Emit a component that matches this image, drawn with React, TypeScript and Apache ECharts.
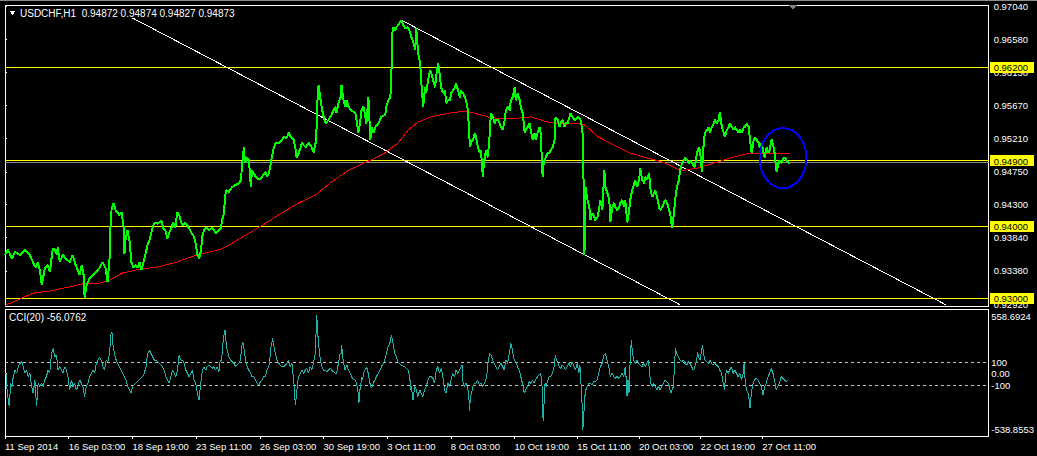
import React, { useEffect, useRef } from "react";
import * as echarts from "echarts";

// ---------- data ----------
const symbolTitle = "USDCHF,H1";
const lastBar = [0.94872, 0.94874, 0.94827, 0.94873];
const cciTitle = "CCI(20)";
const cciLast = -56.0762;

const priceMin = 0.92893;
const priceMax = 0.97059;
const priceTicks = [0.9704, 0.9658, 0.9613, 0.9567, 0.9521, 0.9475, 0.943, 0.9384, 0.9338, 0.9292];
const levelLines = [0.962, 0.949, 0.94, 0.93];
const bidPrice = 0.94873;

const cciMin = -538.8553;
const cciMax = 558.6924;
const cciTicks = [558.6924, 100, 0, -100, -538.8553];
const cciLevels = [100, -100];

const barMax = 988;
const timeTickPos = [0, 64, 128, 192, 256, 320, 384, 448, 512, 575, 637, 699, 761];
const timeLabels = [
  "11 Sep 2014", "16 Sep 03:00", "18 Sep 19:00", "23 Sep 11:00", "26 Sep 03:00",
  "30 Sep 19:00", "3 Oct 11:00", "8 Oct 03:00", "10 Oct 19:00", "15 Oct 11:00",
  "20 Oct 03:00", "22 Oct 19:00", "27 Oct 11:00",
];

const trendLines = [
  [[128, 0.9688], [678, 0.9291]],
  [[398, 0.9685], [945, 0.9291]],
];

const circleMark = { x: 781.5, y: 0.9494, rx: 23.5, ry: 0.00415 };

const closeSeries = [
  [0,.9360],[3,.9367],[7,.9355],[10,.9364],[15,.9360],[20,.9367],[25,.9360],[28,.9350],[31,.9342],[33,.9350],
  [35,.9339],[37,.9318],[40,.9342],[43,.9346],[45,.9336],[48,.9369],[50,.9367],[52,.9360],[53,.9371],[55,.9350],
  [58,.9360],[61,.9355],[65,.9350],[68,.9360],[71,.9346],[73,.9339],[75,.9332],[77,.9346],[79,.9332],[80,.9301],
  [82,.9318],[85,.9328],[88,.9332],[91,.9336],[95,.9342],[98,.9350],[101,.9342],[103,.9322],[105,.9355],[106,.9401],
  [107,.9422],[109,.9432],[111,.9422],[113,.9419],[115,.9415],[117,.9419],[119,.9401],[120,.9362],[121,.9380],[123,.9394],
  [125,.9380],[127,.9350],[129,.9342],[131,.9346],[133,.9342],[135,.9350],[137,.9339],[139,.9350],[141,.9360],[143,.9373],
  [145,.9380],[147,.9391],[149,.9401],[151,.9405],[153,.9403],[155,.9405],[157,.9408],[159,.9397],[161,.9394],[163,.9383],
  [165,.9391],[167,.9397],[169,.9405],[171,.9397],[173,.9419],[175,.9415],[177,.9405],[179,.9401],[181,.9405],[183,.9401],
  [185,.9397],[187,.9391],[189,.9387],[191,.9380],[193,.9362],[195,.9355],[197,.9367],[198,.9385],[200,.9394],[202,.9398],
  [205,.9394],[208,.9398],[212,.9390],[215,.9394],[217,.9398],[218,.9408],[220,.9418],[221,.9440],[222,.9450],[225,.9447],
  [228,.9454],[232,.9457],[235,.9459],[237,.9464],[238,.9482],[240,.9509],[241,.9487],[243,.9495],[245,.9491],[247,.9454],
  [248,.9477],[252,.9468],[255,.9464],[258,.9468],[262,.9475],[263,.9468],[265,.9473],[267,.9487],[268,.9495],[270,.9509],
  [272,.9515],[275,.9515],[278,.9519],[280,.9523],[283,.9522],[285,.9529],[287,.9523],[290,.9519],[292,.9505],[293,.9494],
  [295,.9501],[297,.9509],[298,.9515],[302,.9509],[305,.9515],[308,.9509],[310,.9502],[312,.9515],[313,.9537],[314,.9578],
  [315,.9595],[317,.9574],[318,.9565],[320,.9551],[322,.9542],[325,.9547],[328,.9554],[330,.9560],[332,.9565],[333,.9556],
  [335,.9570],[337,.9578],[338,.9595],[340,.9574],[342,.9565],[343,.9574],[345,.9565],[348,.9560],[352,.9556],[355,.9529],
  [357,.9547],[358,.9560],[360,.9565],[362,.9551],[363,.9542],[365,.9578],[367,.9519],[368,.9537],[370,.9529],[372,.9537],
  [375,.9542],[378,.9551],[382,.9554],[383,.9565],[385,.9574],[387,.9578],[388,.9602],[389,.9667],[390,.9675],[392,.9671],
  [393,.9675],[395,.9678],[398,.9685],[400,.9678],[402,.9674],[405,.9675],[407,.9667],[408,.9662],[410,.9655],[412,.9644],
  [413,.9674],[415,.9639],[417,.9626],[418,.9602],[420,.9565],[422,.9592],[423,.9584],[425,.9602],[427,.9616],[428,.9612],
  [430,.9602],[432,.9592],[433,.9606],[435,.9626],[437,.9606],[438,.9592],[440,.9584],[442,.9588],[443,.9570],[445,.9574],
  [447,.9574],[448,.9584],[450,.9588],[452,.9592],[453,.9598],[455,.9588],[457,.9578],[458,.9588],[460,.9584],[462,.9578],
  [463,.9574],[465,.9560],[467,.9509],[468,.9515],[470,.9519],[472,.9529],[473,.9523],[475,.9509],[477,.9501],[478,.9505],
  [480,.9468],[481,.9487],[482,.9495],[483,.9505],[485,.9495],[487,.9529],[488,.9556],[490,.9551],[492,.9542],[493,.9547],
  [495,.9547],[497,.9542],[498,.9537],[500,.9533],[502,.9547],[503,.9560],[505,.9565],[507,.9560],[508,.9574],[510,.9578],
  [512,.9592],[513,.9574],[515,.9584],[517,.9574],[518,.9565],[520,.9556],[522,.9529],[523,.9533],[525,.9537],[527,.9542],
  [528,.9533],[530,.9519],[532,.9529],[533,.9519],[535,.9529],[537,.9537],[538,.9529],[540,.9468],[541,.9487],[543,.9495],
  [545,.9501],[547,.9501],[548,.9505],[550,.9509],[552,.9519],[553,.9551],[555,.9547],[557,.9537],[558,.9542],[560,.9547],
  [562,.9537],[563,.9542],[565,.9542],[567,.9551],[568,.9556],[570,.9551],[572,.9547],[573,.9547],[575,.9551],[577,.9549],
  [578,.9547],[580,.9533],[581,.9473],[582,.9360],[583,.9454],[585,.9436],[587,.9426],[588,.9408],[590,.9418],[592,.9412],
  [593,.9408],[595,.9412],[597,.9426],[598,.9436],[600,.9422],[602,.9477],[603,.9454],[605,.9446],[607,.9436],[608,.9405],
  [610,.9426],[612,.9432],[613,.9426],[615,.9422],[617,.9426],[618,.9432],[620,.9436],[622,.9426],[623,.9436],[625,.9405],
  [627,.9422],[628,.9436],[630,.9450],[632,.9459],[633,.9464],[635,.9454],[637,.9464],[638,.9480],[640,.9464],[642,.9459],
  [643,.9468],[645,.9464],[647,.9473],[648,.9454],[650,.9440],[652,.9446],[653,.9450],[655,.9440],[657,.9426],[658,.9422],
  [660,.9426],[662,.9432],[663,.9436],[665,.9432],[667,.9422],[668,.9418],[670,.9397],[672,.9418],[673,.9436],[675,.9454],
  [677,.9464],[678,.9477],[680,.9487],[682,.9491],[683,.9495],[685,.9491],[687,.9487],[688,.9491],[690,.9487],[692,.9482],
  [693,.9482],[695,.9501],[697,.9509],[698,.9505],[700,.9475],[702,.9519],[703,.9529],[705,.9533],[707,.9537],[708,.9529],
  [710,.9537],[712,.9542],[713,.9547],[715,.9542],[717,.9547],[718,.9558],[720,.9537],[722,.9529],[723,.9523],[725,.9533],
  [727,.9537],[728,.9542],[730,.9537],[732,.9533],[733,.9537],[735,.9533],[737,.9529],[738,.9533],[740,.9529],[742,.9537],
  [743,.9537],[745,.9542],[747,.9537],[748,.9523],[750,.9501],[752,.9519],[753,.9523],[755,.9519],[757,.9515],[758,.9509],
  [760,.9515],[762,.9501],[763,.9495],[765,.9509],[767,.9501],[768,.9505],[770,.9520],[772,.9509],[773,.9501],[775,.9475],
  [777,.9487],[778,.9491],[780,.9487],[782,.9494],[783,.9495],[785,.9491],[787,.9487],[788,.94873],
];

const maSeries = [
  [0,.9290],[28,.9307],[45,.9310],[62,.9315],[78,.9320],[95,.9321],[105,.9325],[118,.9335],[135,.9340],[152,.9343],
  [172,.9350],[195,.9361],[215,.9367],[228,.9376],[245,.9390],[262,.9404],[278,.9418],[295,.9432],[312,.9443],[328,.9461],
  [345,.9477],[362,.9488],[378,.9498],[395,.9515],[405,.9533],[415,.9544],[428,.9551],[445,.9556],[462,.9559],[472,.9556],
  [485,.9551],[495,.9549],[512,.9549],[528,.9551],[545,.9544],[562,.9541],[575,.9542],[582,.9540],[588,.9533],[595,.9524],
  [612,.9512],[628,.9501],[645,.9494],[662,.9488],[675,.9479],[682,.9477],[695,.9480],[712,.9487],[728,.9494],[745,.9500],
  [755,.9501],[768,.9501],[782,.9501],[788,.9500],
];

const cciSeries = [
  [1,3],[2.3,-169],[4.3,-283],[5.7,-83],[7,-111],[8.3,-26],[10,31],[11.7,3],[13.3,60],[15,89],
  [17,103],[18.3,60],[20,3],[21.7,31],[23.3,-26],[25,3],[26.7,-111],[28.3,-169],[30,-54],[31.7,-283],
  [33.3,-83],[35,-111],[36.7,-83],[38.3,-111],[40,-54],[41.7,-26],[43.3,31],[45,3],[46.7,174],[48.3,217],
  [50,146],[51.7,160],[53.3,31],[55,60],[56.7,31],[58.3,3],[60,60],[61.7,31],[63.3,-26],[65,-140],
  [66.7,-54],[68.3,-111],[70,-83],[71.7,-140],[73.3,-111],[75,-54],[76.7,-83],[78.3,-111],[80,-197],[81.7,-111],
  [83.3,-83],[85,-26],[86.7,3],[88.3,31],[90,3],[91.7,89],[93.3,117],[95,146],[96.7,117],[98.3,60],
  [100,31],[101.7,117],[103.3,103],[105,174],[106.7,360],[107.7,346],[108.3,260],[110,174],[111.7,117],[113.3,89],
  [115,60],[116.7,31],[118.3,3],[120,-26],[121.7,-54],[123.3,-111],[125,-140],[126.7,-169],[128.3,-111],[131.7,-83],
  [135,-54],[138.3,-26],[140,3],[141.7,60],[143.3,174],[145,203],[146.7,174],[148.3,146],[150,117],[151.7,117],
  [155,89],[158.3,60],[160,31],[161.7,-26],[163.3,-54],[165,-83],[166.7,-26],[168.3,31],[170,3],[171.7,-26],
  [173.3,31],[175,160],[176.7,117],[178.3,117],[180,89],[181.7,31],[183.3,3],[185,-26],[186.7,3],[188.3,31],
  [190,-54],[191.7,-83],[193.3,-169],[195,-226],[196.7,-83],[198.3,31],[200,60],[201.7,31],[203.3,60],[205,74],
  [206.7,60],[208.3,46],[210,60],[211.7,31],[213.3,60],[215,17],[216,103],[217.3,117],[218.3,174],[219.3,289],
  [221,380],[222.3,260],[223.3,203],[225,146],[226.7,117],[228.3,103],[230,89],[231.7,60],[233.3,74],[235,89],
  [236.7,117],[237.7,231],[239,274],[240.3,203],[241.7,117],[243.3,60],[245,31],[246.7,3],[248.3,-26],[250,-26],
  [251.7,-54],[253.3,-83],[255,-97],[256.7,-69],[258.3,-54],[260,-26],[261.7,-26],[263.3,31],[265,60],[266,117],
  [267.3,231],[269,303],[270.3,231],[271.7,174],[273.3,117],[275,89],[276.7,74],[278.3,60],[280,60],[281.7,74],
  [283.3,89],[285,117],[286.7,60],[288.3,89],[289.3,3],[290.7,-111],[291.7,-269],[292.7,-197],[294,-83],[295,-26],
  [296.7,3],[298.3,31],[300,3],[301.7,31],[303.3,46],[305,3],[306.7,60],[308.3,31],[310,89],[311.7,174],
  [312.7,374],[313.3,503],[314.3,346],[315.7,203],[317,117],[318.3,60],[320,31],[321.7,31],[323.3,17],[325,31],
  [326.7,46],[328.3,31],[330,17],[331.7,3],[333.3,3],[335,89],[336.7,174],[337.7,174],[338.3,246],[339.3,146],
  [340.3,89],[341.7,31],[342.7,60],[343.7,74],[345,31],[346.7,3],[348.3,-26],[350,-54],[351.7,-54],[353.3,-83],
  [355,-169],[355.7,-254],[356.7,-140],[357.7,-83],[358.3,-26],[359.3,-54],[360.3,3],[361.7,31],[363.3,60],[365,3],
  [366.7,-83],[368.3,-126],[370,-83],[371.7,-54],[373.3,-26],[375,3],[376.7,31],[378.3,60],[380,89],[381.7,117],
  [383.3,174],[385,231],[386.7,260],[388.3,331],[390,260],[391.7,174],[393.3,146],[395,96],[398.3,74],[401.7,60],
  [405,31],[406.7,-26],[407.7,-140],[408.3,-111],[410,-226],[411.7,-111],[413.3,-140],[415,-197],[416.7,-140],[418.3,-169],
  [420,-197],[421.7,-140],[423.3,-111],[425,-54],[426.7,-26],[428.3,-26],[430,-40],[431.7,-83],[433.3,31],[435,60],
  [436.7,3],[438.3,46],[440,-26],[441.7,-140],[443.3,-169],[445,-83],[446.7,-111],[448.3,-54],[450,3],[451.7,-26],
  [453.3,31],[455,3],[456.7,31],[458.3,60],[459.3,74],[460.3,-83],[461.7,-111],[463.3,-83],[465,-126],[466,-169],
  [466.7,-326],[467.7,-197],[469,-169],[470,-111],[471.7,-83],[473.3,-83],[475,-54],[476.7,-97],[478.3,-83],[480,-111],
  [481.7,-83],[483.3,-54],[484.3,3],[485.7,117],[487,174],[488.3,160],[490,117],[491.7,89],[493.3,60],[495,31],
  [496.7,60],[498.3,89],[500,60],[501.7,31],[503.3,117],[505,89],[506.7,174],[508.3,260],[509.3,231],[510.3,174],
  [511.7,117],[513.3,103],[515,60],[516.7,31],[518.3,-26],[520,-83],[521.7,-169],[523.3,-140],[525,-111],[526.7,-69],
  [528.3,-83],[530,-54],[531.7,-83],[533.3,-54],[535,-26],[536.7,-11],[538.3,3],[540,-140],[540.7,-411],[541.7,-254],
  [542.7,-83],[543.7,-111],[545,-69],[546.7,-26],[548.3,-26],[550,3],[551.7,60],[553,160],[554.3,117],[555.7,89],
  [557,60],[558.3,46],[560,74],[561.7,60],[563.3,31],[565,60],[566.7,89],[568.3,60],[570,103],[571.7,60],
  [573.3,31],[575,89],[576.7,3],[577.7,74],[579,-111],[580,-283],[580.7,-483],[581.7,-340],[582.7,-197],[583.7,-140],
  [585,-111],[586.7,-83],[588.3,-83],[590,-97],[591.7,-69],[593.3,-69],[595,-54],[596.7,3],[598.3,60],[600,89],
  [601.7,160],[603.3,174],[605,117],[606.7,60],[608.3,-26],[610,3],[611.7,-26],[613.3,-40],[615,-26],[616.7,-40],
  [618.3,-26],[620,3],[621.7,-26],[623.3,60],[624.3,-54],[625,-197],[626,-54],[627,-169],[627.7,3],[628.3,117],
  [629.3,289],[630.3,203],[631.7,117],[633.3,89],[635,117],[636.7,89],[638.3,74],[640,60],[641.7,89],[643.3,60],
  [645,89],[646.7,117],[647.7,3],[649,-83],[650.3,-111],[651.7,-83],[653.3,-111],[655,-140],[656.7,-111],[658.3,-140],
  [660,-111],[661.7,-83],[663.3,-54],[665,-69],[666.7,-83],[668.3,-140],[669.3,-169],[670.3,-140],[671.7,-111],[672.7,60],
  [673.7,217],[675,174],[676.7,146],[678.3,117],[680,103],[681.7,117],[683.3,89],[685,74],[686.7,103],[688.3,89],
  [690,60],[691.7,31],[693.3,60],[695,117],[696,189],[697,146],[698.3,117],[700,203],[701,246],[702,174],
  [703.3,117],[705,103],[706.7,89],[708.3,117],[710,89],[711.7,74],[713.3,89],[715,74],[716.7,60],[718.3,31],
  [720,3],[721.7,-83],[723,-140],[724,-26],[725,31],[726.7,3],[728.3,31],[730,60],[731.7,3],[733.3,31],
  [735,3],[736.7,-26],[738.3,3],[740,-54],[741.7,3],[742.7,89],[743.7,-54],[745,-140],[746.7,-169],[747.7,-226],
  [748.7,-297],[750,-169],[751.7,-83],[753.3,-54],[755,-40],[756.7,-54],[758.3,-83],[760,-111],[761.7,-183],[763.3,-111],
  [765,-83],[766.7,-26],[768.3,3],[770,46],[771.7,3],[773.3,-54],[775,-140],[776.7,-111],[778.3,-83],[780,-26],
  [781.7,-40],[783.3,-54],[785,-69],[786.7,-56.08],
];

// ---------- styles ----------
const FONT = "'Liberation Sans', Arial, sans-serif";
const FS = 9.5;
const near = (a: number, b: number, eps: number) => Math.abs(a - b) < eps;

export default function App() {
  const ref = useRef<HTMLDivElement>(null);

  useEffect(() => {
    if (!ref.current) return;
    const chart = echarts.init(ref.current, undefined, { renderer: "svg" });

    const lineSeries = (data: number[][], color: string, width: number, xi: number, z: number, type: any = "solid") => ({
      type: "line",
      xAxisIndex: xi,
      yAxisIndex: xi,
      data,
      symbol: "none",
      silent: true,
      z,
      lineStyle: { color, width, type },
    });

    const series: any[] = [];
    series.push(lineSeries([[0, bidPrice], [barMax, bidPrice]], "#8a8a8a", 1, 0, 2));
    levelLines.forEach((l) => series.push(lineSeries([[0, l], [barMax, l]], "#ffff00", 1, 0, 2)));
    trendLines.forEach((t) => series.push(lineSeries(t, "#ffffff", 1, 0, 3)));
    series.push(lineSeries(maSeries, "#ff0000", 1, 0, 4));
    series.push(lineSeries(closeSeries, "#00ff00", 2, 0, 5));
    cciLevels.forEach((l) => series.push(lineSeries([[0, l], [barMax, l]], "#c0c0c0", 1, 1, 2, [3, 3])));
    series.push(lineSeries(cciSeries, "#20b2aa", 1, 1, 5));

    const priceLabelValues = [...priceTicks, ...levelLines];

    chart.setOption({
      animation: false,
      backgroundColor: "#000000",
      textStyle: { fontFamily: FONT },
      grid: [
        { left: 5, top: 5, width: 988, height: 301, show: true, borderColor: "#ffffff", borderWidth: 1, containLabel: false },
        { left: 5, top: 309, width: 988, height: 127, show: true, borderColor: "#ffffff", borderWidth: 1, containLabel: false },
      ],
      xAxis: [
        { type: "value", gridIndex: 0, min: 0, max: barMax, show: false },
        {
          type: "value",
          gridIndex: 1,
          min: 0,
          max: barMax,
          position: "bottom",
          splitLine: { show: false },
          axisLine: { show: true, onZero: false, lineStyle: { color: "#ffffff", width: 1 } },
          axisTick: { show: true, customValues: timeTickPos, length: 3, lineStyle: { color: "#ffffff" } },
          axisLabel: {
            customValues: timeTickPos,
            showMinLabel: true,
            showMaxLabel: true,
            align: "left",
            margin: 5,
            color: "#ffffff",
            fontSize: FS,
            fontFamily: FONT,
            formatter: (v: number) => {
              const i = timeTickPos.findIndex((p) => near(p, v, 0.01));
              return i >= 0 ? timeLabels[i] : "";
            },
          },
        },
      ],
      yAxis: [
        {
          type: "value",
          gridIndex: 0,
          min: priceMin,
          max: priceMax,
          position: "right",
          splitLine: { show: false },
          axisLine: { show: false },
          axisTick: { show: true, customValues: priceTicks, length: 2, lineStyle: { color: "#ffffff" } },
          axisLabel: {
            customValues: priceLabelValues,
            showMinLabel: true,
            showMaxLabel: true,
            margin: 1,
            formatter: (v: number) => {
              const isLevel = levelLines.some((l) => near(l, v, 1e-7));
              return isLevel ? `{hl|${v.toFixed(5)}}` : `{n|${v.toFixed(5)}}`;
            },
            rich: {
              n: { color: "#ffffff", fontSize: FS, fontFamily: FONT, padding: [0, 0, 0, 4], lineHeight: 10 },
              hl: { color: "#000000", backgroundColor: "#ffff00", fontSize: FS, fontFamily: FONT, padding: [1, 6, 0, 4], lineHeight: 10 },
            },
          },
        },
        {
          type: "value",
          gridIndex: 1,
          min: cciMin,
          max: cciMax,
          position: "right",
          splitLine: { show: false },
          axisLine: { show: false },
          axisTick: { show: true, customValues: [100, 0, -100], length: 2, lineStyle: { color: "#ffffff" } },
          axisLabel: {
            customValues: cciTicks,
            showMinLabel: true,
            showMaxLabel: true,
            margin: 1,
            formatter: (v: number) => {
              if (near(v, cciMax, 1e-3)) return `{t|${cciMax.toFixed(4)}}`;
              if (near(v, cciMin, 1e-3)) return `{b|${cciMin.toFixed(4)}}`;
              if (near(v, 0, 1e-6)) return `{n|0.00}`;
              return `{n|${Math.round(v)}}`;
            },
            rich: {
              n: { color: "#ffffff", fontSize: FS, fontFamily: FONT, padding: [0, 0, 0, 2], lineHeight: 10 },
              t: { color: "#ffffff", fontSize: FS, fontFamily: FONT, padding: [14, 0, 0, 2], lineHeight: 10 },
              b: { color: "#ffffff", fontSize: FS, fontFamily: FONT, padding: [0, 0, 13, 2], lineHeight: 10 },
            },
          },
        },
      ],
      series,
    });

    const c = chart.convertToPixel({ gridIndex: 0 } as any, [circleMark.x, circleMark.y]) as number[];
    const r = chart.convertToPixel({ gridIndex: 0 } as any, [circleMark.x + circleMark.rx, circleMark.y + circleMark.ry]) as number[];

    chart.setOption({
      graphic: [
        { type: "rect", shape: { x: 0, y: 0, width: 1037, height: 1 }, style: { fill: "#8c8c8c" }, z: 50, silent: true },
        { type: "polygon", shape: { points: [[9.5, 11], [15.5, 11], [12.5, 15]] }, style: { fill: "#ffffff" }, z: 50, silent: true },
        {
          type: "text",
          x: 20,
          y: 8,
          style: {
            text: `${symbolTitle}\u00a0\u00a0${lastBar.map((v) => v.toFixed(5)).join(" ")}`,
            fill: "#ffffff",
            fontSize: 10,
            fontFamily: FONT,
          },
          z: 50,
          silent: true,
        },
        {
          type: "text",
          x: 9,
          y: 312,
          style: { text: `${cciTitle} ${cciLast.toFixed(4)}`, fill: "#ffffff", fontSize: 10, fontFamily: FONT },
          z: 50,
          silent: true,
        },
        { type: "polygon", shape: { points: [[788, 5], [798, 5], [793, 9]] }, style: { fill: "#7f7f7f" }, z: 50, silent: true },
        {
          type: "ellipse",
          shape: { cx: c[0], cy: c[1], rx: Math.abs(r[0] - c[0]), ry: Math.abs(c[1] - r[1]) },
          style: { fill: "none", stroke: "#0000ff", lineWidth: 2 },
          z: 60,
          silent: true,
        },
      ],
    });

    return () => chart.dispose();
  }, []);

  return (
    <>
      <style>{"svg path { shape-rendering: crispEdges; }"}</style>
      <div
        ref={ref}
        style={{ position: "absolute", left: 0, top: 0, width: 1037, height: 456, background: "#000" }}
      />
    </>
  );
}
